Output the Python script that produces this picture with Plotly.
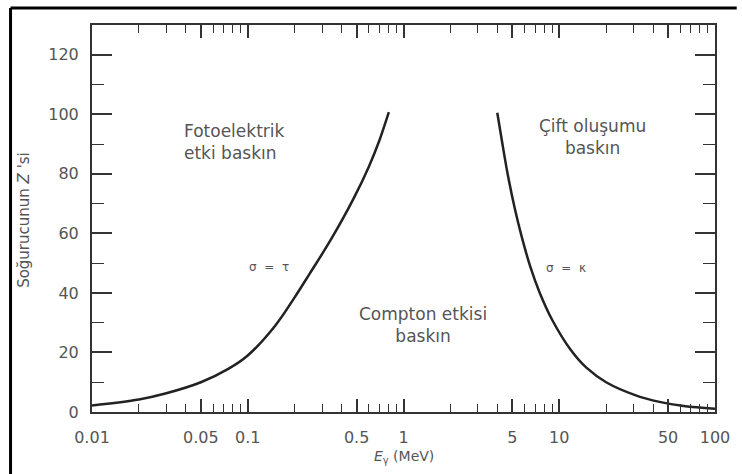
import plotly.graph_objects as go

# ---- data ----
left_E = [0.01, 0.02, 0.03, 0.05, 0.075, 0.1, 0.15, 0.2, 0.25, 0.34, 0.476, 0.6, 0.7, 0.805]
left_Z = [2.2, 4.2, 6.3, 10, 14.5, 19, 29, 38.5, 46.5, 57.7, 71.5, 82.5, 91.2, 100.7]

right_E = [4.0, 4.35, 4.7, 5.2, 5.7, 6.5, 7.5, 9, 11.8, 15, 20, 31, 44, 63, 100]
right_Z = [100.5, 89, 79, 68, 59.5, 49, 40, 31, 21, 14.8, 10, 5.6, 3.4, 2.0, 1.1]

x_tick_vals = [0.01, 0.05, 0.1, 0.5, 1, 5, 10, 50, 100]
x_tick_text = ["0.01", "0.05", "0.1", "0.5", "1", "5", "10", "50", "100"]
x_minor_vals = [0.02, 0.03, 0.04, 0.06, 0.07, 0.08, 0.09,
                0.2, 0.3, 0.4, 0.6, 0.7, 0.8, 0.9,
                2, 3, 4, 6, 7, 8, 9,
                20, 30, 40, 60, 70, 80, 90]
y_tick_vals = [0, 20, 40, 60, 80, 100, 120]

W, H = 742, 474
L, R, T, B = 92, 19, 25, 62
PW, PH = W - L - R, H - T - B


def px(xp):
    return (xp - L) / PW


def py(yp):
    return (H - B - yp) / PH


line_col = "#222222"
text_col = "#555555"
font_family = "DejaVu Sans"

fig = go.Figure()
fig.add_trace(go.Scatter(x=left_E, y=left_Z, mode="lines",
                         line=dict(color=line_col, width=2.5, shape="spline"),
                         showlegend=False, hoverinfo="skip"))
fig.add_trace(go.Scatter(x=right_E, y=right_Z, mode="lines",
                         line=dict(color=line_col, width=2.5, shape="spline"),
                         showlegend=False, hoverinfo="skip"))

axis_common = dict(showline=True, linecolor="#333333", linewidth=2,
                   mirror="ticks", ticks="inside", tickcolor="#333333",
                   tickwidth=1.5, showgrid=False, zeroline=False,
                   tickfont=dict(family=font_family, size=16, color=text_col))

fig.update_xaxes(type="log", range=[-2, 2], tickmode="array",
                 tickvals=x_tick_vals, ticktext=x_tick_text, ticklen=13,
                 ticklabelstandoff=10,
                 minor=dict(tickmode="array", tickvals=x_minor_vals,
                            ticks="inside", ticklen=8, tickcolor="#333333",
                            tickwidth=1.2),
                 **axis_common)
fig.update_yaxes(range=[0, 130], tickmode="array", tickvals=y_tick_vals,
                 ticklen=20, ticklabelstandoff=8,
                 minor=dict(dtick=10, ticks="inside", ticklen=12,
                            tickcolor="#333333", tickwidth=1.2),
                 **axis_common)

ann_font = dict(family=font_family, size=17, color=text_col)
small_font = dict(family=font_family, size=12, color=text_col)
nb = "\u00a0\u00a0"
annotations = [
    dict(x=px(183), y=py(142), text="Fotoelektrik<br>etki baskın",
         xanchor="left", yanchor="middle", align="left", font=ann_font),
    dict(x=px(599), y=py(137), text="Çift oluşumu<br>baskın",
         xanchor="center", yanchor="middle", align="center", font=ann_font),
    dict(x=px(427), y=py(325), text="Compton etkisi<br>baskın",
         xanchor="center", yanchor="middle", align="center", font=ann_font),
    dict(x=px(271), y=py(267), text="σ" + nb + "=" + nb + "τ", xanchor="center",
         yanchor="middle", font=small_font),
    dict(x=px(572), y=py(268), text="σ" + nb + "=" + nb + "κ", xanchor="center",
         yanchor="middle", font=small_font),
    dict(x=px(23), y=py(220), text="Soğurucunun <i>Z</i> 'si", textangle=-90,
         xanchor="center", yanchor="middle",
         font=dict(family=font_family, size=15, color=text_col)),
    dict(x=px(408), y=py(457), text="<i>E</i><sub>γ</sub> (MeV)",
         xanchor="center", yanchor="middle",
         font=dict(family=font_family, size=14, color=text_col)),
]
for a in annotations:
    a.update(xref="paper", yref="paper", showarrow=False)

# outer frame of the figure image (left and top edges)
frame_x = px(9.5)
frame_y = py(8)
shapes = [
    dict(type="line", xref="paper", yref="paper", x0=frame_x, x1=frame_x,
         y0=py(480), y1=frame_y, line=dict(color="black", width=3)),
    dict(type="line", xref="paper", yref="paper", x0=frame_x, x1=px(745),
         y0=frame_y, y1=frame_y, line=dict(color="black", width=3)),
]

fig.update_layout(width=W, height=H, margin=dict(l=L, r=R, t=T, b=B),
                  paper_bgcolor="white", plot_bgcolor="white",
                  annotations=annotations, shapes=shapes,
                  font=dict(family=font_family, color=text_col))

fig.write_html("out.html", config={"displayModeBar": False},
               post_script="document.body.style.margin='0';document.body.style.overflow='hidden';")
